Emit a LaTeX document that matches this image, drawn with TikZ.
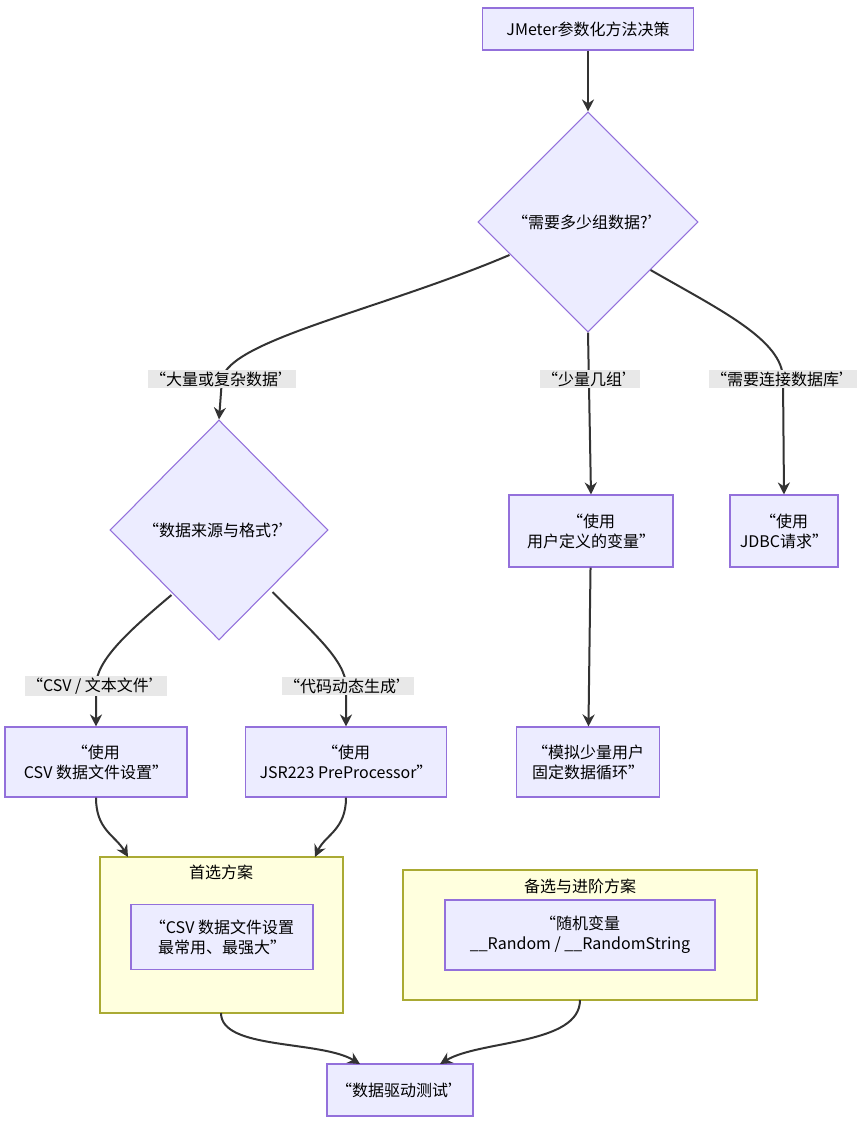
\documentclass[tikz,border=0pt]{standalone}
\usepackage{fontspec}
\setmainfont{Noto Sans CJK SC}
\usetikzlibrary{shapes.geometric,arrows.meta}
\definecolor{nf}{HTML}{ECECFF}\definecolor{ns}{HTML}{9370DB}
\definecolor{cf}{HTML}{FFFFDE}\definecolor{cs}{HTML}{AAAA33}
\definecolor{lb}{HTML}{E8E8E8}\definecolor{ln}{HTML}{333333}
\begin{document}
\begin{tikzpicture}[x=0.75pt,y=-0.75pt,font=\fontsize{12}{15}\selectfont,
 box/.style={draw=ns,fill=nf,line width=0.8pt,align=center,inner sep=0pt},
 dia/.style={draw=ns,fill=nf,line width=0.8pt,diamond,minimum width=220*0.75pt,minimum height=220*0.75pt,inner sep=0pt,align=center},
 clu/.style={draw=cs,fill=cf,line width=0.8pt},
 lab/.style={fill=lb,inner sep=1.5pt},
 e/.style={draw=ln,line width=1.5pt,-{Stealth[length=9pt,width=9pt]}}]
\useasboundingbox (0,0) rectangle (863,1125);
\node[box,minimum width=211*0.75pt,minimum height=42*0.75pt] (a) at (588,29) {JMeter参数化方法决策};
\node[dia] (d1) at (588,222) {“需要多少组数据?’};
\node[dia,minimum width=218*0.75pt,minimum height=220*0.75pt] (d2) at (219,530) {“数据来源与格式?’};
\node[box,minimum width=164*0.75pt,minimum height=72*0.75pt] (u) at (591,531) {“使用\\用户定义的变量”};
\node[box,minimum width=108*0.75pt,minimum height=72*0.75pt] (j) at (784,531) {“使用\\JDBC请求”};
\node[box,minimum width=182*0.75pt,minimum height=70*0.75pt] (c) at (96,762) {“使用\\CSV 数据文件设置”};
\node[box,minimum width=201*0.75pt,minimum height=70*0.75pt] (s) at (346,762) {“使用\\JSR223 PreProcessor”};
\node[box,minimum width=143*0.75pt,minimum height=70*0.75pt] (m) at (588,762) {“模拟少量用户\\固定数据循环”};
\draw[clu] (100,857) rectangle (343,1013);
\coordinate (c1b) at (221,1013);
\node (t1) at (221,872) {首选方案};
\node[box,minimum width=182*0.75pt,minimum height=65*0.75pt] (p) at (222,937) {“CSV 数据文件设置\\最常用、最强大”};
\draw[clu] (403,870) rectangle (757,1000);
\coordinate (c2b) at (580,1000);
\node (t2) at (580,886) {备选与进阶方案};
\node[box,minimum width=270*0.75pt,minimum height=70*0.75pt] (r) at (580,935) {“随机变量\\\_\_Random / \_\_RandomString};
\node[box,minimum width=146*0.75pt,minimum height=52*0.75pt] (z) at (400,1090) {“数据驱动测试’};
\coordinate (zl) at (360,1064); \coordinate (zr) at (440,1064);
\draw[e] (a) -- (d1);
\draw[e] (d1.west) ++(32,33) coordinate (x1) (x1) .. controls (380,310) and (230,340) .. (222,379) -- (d2.north);
\draw[e] (d1.south) -- (u.north);
\draw[e] (d1.east) ++(-48,48) coordinate (x2) (x2) .. controls (720,310) and (783,340) .. (783,379) -- (j.north);
\draw[e] (d2.west) ++(62,65) coordinate (x3) (x3) .. controls (130,630) and (96,660) .. (96,686) -- (c.north);
\draw[e] (d2.east) ++(-56,62) coordinate (x4) (x4) .. controls (310,630) and (346,660) .. (346,686) -- (s.north);
\draw[e] (u) -- (m);
\draw[e] (c.south) .. controls (96,830) and (115,835) .. (128,857);
\draw[e] (s.south) .. controls (346,830) and (325,835) .. (315,857);
\draw[e] (c1b) .. controls (221,1050) and (320,1040) .. (zl);
\draw[e] (c2b) .. controls (580,1045) and (480,1040) .. (zr);
\node[lab] at (222,379) {“大量或复杂数据’};
\node[lab] at (590,379) {“少量几组’};
\node[lab] at (783,379) {“需要连接数据库’};
\node[lab] at (96,686) {“CSV / 文本文件’};
\node[lab] at (348,686) {“代码动态生成’};
\end{tikzpicture}
\end{document}
